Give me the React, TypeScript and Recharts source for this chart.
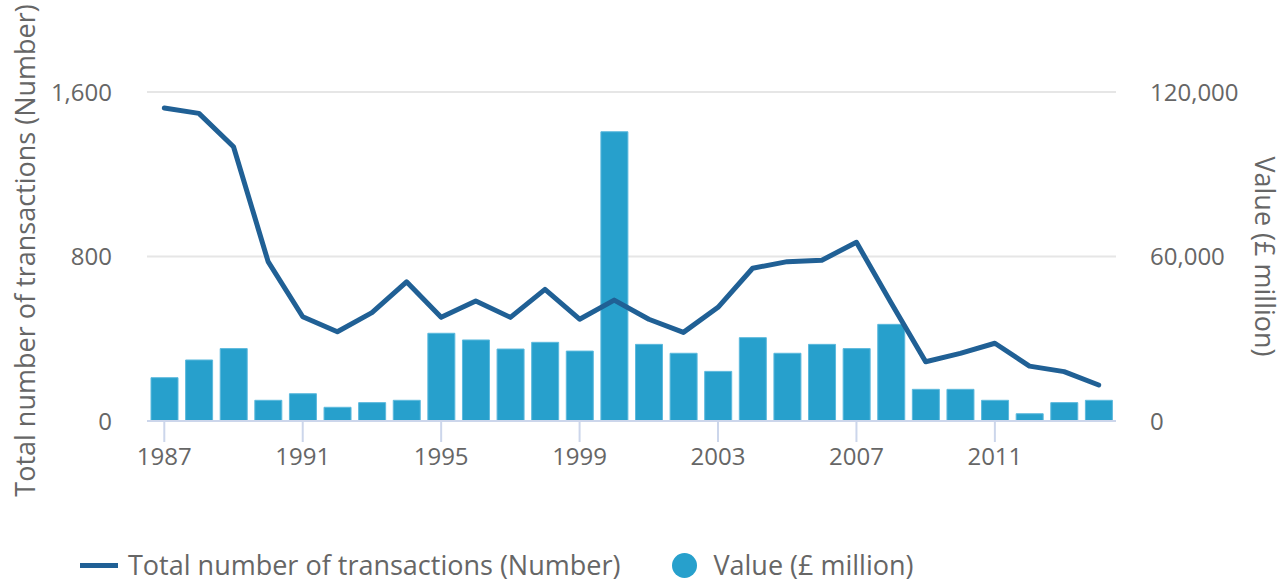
import {
  ComposedChart,
  Bar,
  Line,
  XAxis,
  YAxis,
  CartesianGrid,
} from "recharts";

const years = [
  1987, 1988, 1989, 1990, 1991, 1992, 1993, 1994, 1995, 1996, 1997, 1998, 1999, 2000,
  2001, 2002, 2003, 2004, 2005, 2006, 2007, 2008, 2009, 2010, 2011, 2012, 2013, 2014,
];

const transactions = [
  1522, 1496, 1334, 775, 507, 434, 527, 677, 504, 584, 504, 640, 495, 588,
  495, 431, 553, 743, 775, 782, 869, 575, 288, 329, 378, 267, 240, 175,
];

const valueMillion = [
  15800, 22250, 26400, 7550, 9950, 5000, 6700, 7550, 32000, 29550, 26250, 28700, 25500, 105500,
  27950, 24700, 18100, 30400, 24700, 27950, 26400, 35250, 11550, 11550, 7550, 2650, 6700, 7550,
];

const leftTicks = [0, 800, 1600];
const rightTicks = [0, 60000, 120000];

const data = years.map((y, i) => ({
  year: String(y),
  transactions: transactions[i],
  value: valueMillion[i],
}));

const FONT = "'Open Sans', sans-serif";
const GREY = "#666666";
const LINE_COLOR = "#206095";
const BAR_COLOR = "#27a0cc";
const fmt = (v: number) => v.toLocaleString("en-GB");

export default function App() {
  return (
    <div style={{ position: "absolute", left: 0, top: 0, width: 1288, height: 581, fontFamily: FONT }}>
      <ComposedChart
        width={1288}
        height={581}
        data={data}
        margin={{ top: 92, right: 0, bottom: 0, left: 0 }}
      >
        <CartesianGrid yAxisId="left" vertical={false} stroke="#e6e6e6" strokeWidth={2} />
        <XAxis
          dataKey="year"
          interval={3}
          height={160}
          axisLine={{ stroke: "#ccd6eb", strokeWidth: 2 }}
          tickLine={{ stroke: "#ccd6eb", strokeWidth: 2 }}
          tickSize={21}
          tickMargin={6}
          tick={{ fontSize: 24, fill: GREY, fontFamily: FONT }}
        />
        <YAxis
          yAxisId="left"
          orientation="left"
          width={147}
          domain={[0, 1600]}
          ticks={leftTicks}
          tickFormatter={fmt}
          axisLine={false}
          tickLine={false}
          tickSize={0}
          tickMargin={35}
          tick={{ fontSize: 24, fill: GREY, fontFamily: FONT }}
          label={{
            value: "Total number of transactions (Number)",
            angle: -90,
            position: "insideLeft",
            offset: 25,
            dy: -6,
            style: { textAnchor: "middle", fontSize: 27, fill: GREY, fontFamily: FONT },
          }}
        />
        <YAxis
          yAxisId="right"
          orientation="right"
          width={172}
          domain={[0, 120000]}
          ticks={rightTicks}
          tickFormatter={fmt}
          axisLine={false}
          tickLine={false}
          tickSize={0}
          tickMargin={34}
          tick={{ fontSize: 24, fill: GREY, fontFamily: FONT }}
          label={{
            value: "Value (£ million)",
            angle: 90,
            position: "insideRight",
            offset: 23,
            style: { textAnchor: "middle", fontSize: 27, fill: GREY, fontFamily: FONT },
          }}
        />
        <Bar
          yAxisId="right"
          dataKey="value"
          fill={BAR_COLOR}
          stroke="#5cb9dd"
          strokeWidth={1}
          barSize={27}
          isAnimationActive={false}
        />
        <Line
          yAxisId="left"
          dataKey="transactions"
          type="linear"
          stroke={LINE_COLOR}
          strokeWidth={5}
          strokeLinecap="round"
          strokeLinejoin="round"
          dot={false}
          activeDot={false}
          isAnimationActive={false}
        />
      </ComposedChart>
      <div
        style={{
          position: "absolute",
          left: 80,
          top: 547,
          display: "flex",
          alignItems: "center",
          fontSize: 27,
          color: GREY,
          whiteSpace: "nowrap",
          lineHeight: "36px",
        }}
      >
        <span style={{ display: "inline-block", width: 38, height: 5, background: LINE_COLOR, marginRight: 10 }} />
        <span>Total number of transactions (Number)</span>
        <span
          style={{
            display: "inline-block",
            width: 25,
            height: 25,
            borderRadius: "50%",
            background: BAR_COLOR,
            marginLeft: 52,
            marginRight: 16,
          }}
        />
        <span>Value (£ million)</span>
      </div>
    </div>
  );
}
